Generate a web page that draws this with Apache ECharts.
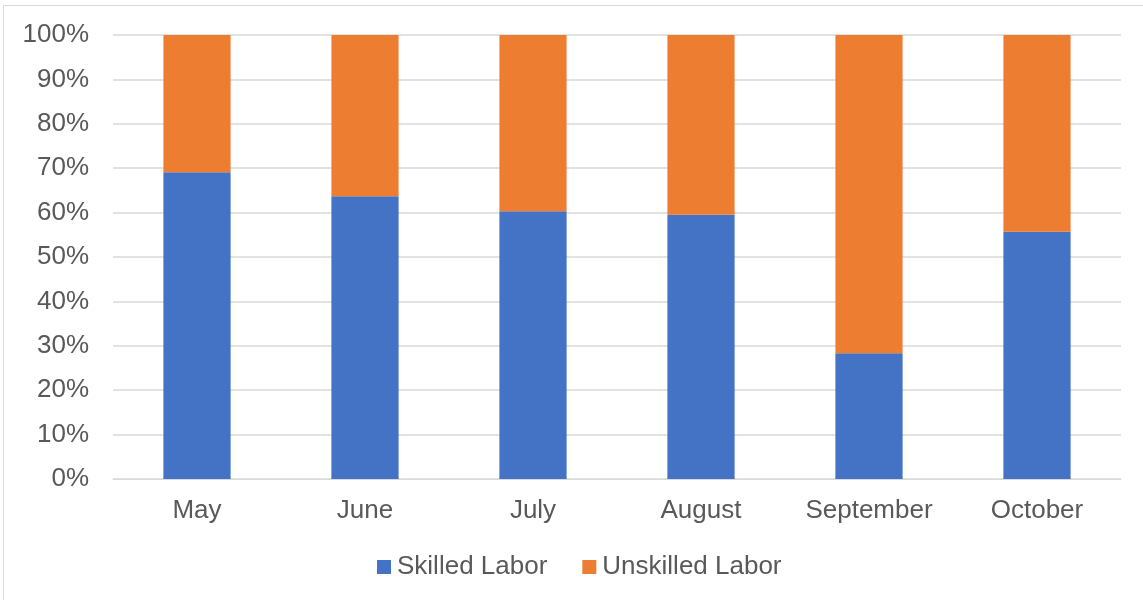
<!DOCTYPE html>
<html lang="en">
<head>
    <meta charset="UTF-8">
    <script src="https://cdn.jsdelivr.net/npm/echarts@6/dist/echarts.min.js"></script>
    <title>Labor Mix</title>
</head>
<body style="margin:0;background:#ffffff">

    <div id="chart" style="width:1143px;height:600px;"></div>

    <script type="text/javascript">
        // data
        var months = ['May', 'June', 'July', 'August', 'September', 'October'];
        var skilled = [69.1, 63.7, 60.3, 59.5, 28.3, 55.7];
        var unskilled = [30.9, 36.3, 39.7, 40.5, 71.7, 44.3];
        var yTicks = [0, 10, 20, 30, 40, 50, 60, 70, 80, 90, 100];

        var txt = '#595959';
        var font = 'Liberation Sans, Arial, sans-serif';

        var chart = echarts.init(document.getElementById('chart'));
        chart.setOption({
            animation: false,
            textStyle: { fontFamily: font },
            graphic: [{
                type: 'rect',
                shape: { x: 3.5, y: 5.5, width: 1150, height: 600 },
                style: { fill: 'none', stroke: '#d9d9d9', lineWidth: 1 },
                silent: true
            }],
            grid: { left: 113, right: 22, top: 35, bottom: 121 },
            legend: {
                bottom: 15,
                left: 372,
                itemWidth: 14,
                itemHeight: 14,
                itemGap: 35,
                icon: 'rect',
                textStyle: { color: txt, fontSize: 26, fontFamily: font, padding: [0, 0, 0, 1] },
                data: ['Skilled Labor', 'Unskilled Labor']
            },
            xAxis: {
                type: 'category',
                data: months,
                axisLine: { show: true, lineStyle: { color: '#d9d9d9', width: 1 } },
                axisTick: { show: false },
                axisLabel: { color: txt, fontSize: 26, fontFamily: font, margin: 19 }
            },
            yAxis: {
                type: 'value',
                min: yTicks[0],
                max: yTicks[yTicks.length - 1],
                interval: 10,
                axisLine: { show: false },
                axisTick: { show: false },
                splitLine: { lineStyle: { color: '#d9d9d9', width: 1.5 } },
                axisLabel: {
                    color: txt, fontSize: 26, fontFamily: font, margin: 24,
                    formatter: function (v) { return v + '%'; }
                }
            },
            series: [{
                name: 'Skilled Labor',
                type: 'bar',
                stack: 'total',
                barWidth: '40%',
                itemStyle: { color: '#4472c4' },
                data: skilled
            }, {
                name: 'Unskilled Labor',
                type: 'bar',
                stack: 'total',
                barWidth: '40%',
                itemStyle: { color: '#ed7d31' },
                data: unskilled
            }]
        });
    </script>

</body>
</html>
